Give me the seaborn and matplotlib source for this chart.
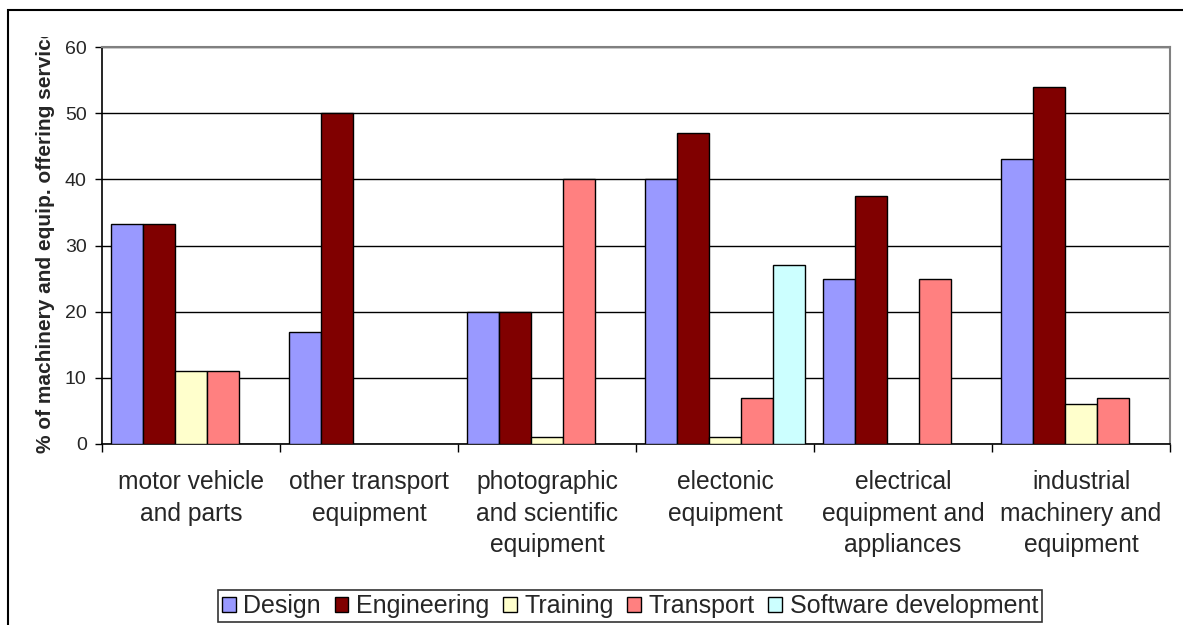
import numpy as np
import pandas as pd
import matplotlib
matplotlib.use('Agg')
import matplotlib.pyplot as plt
from matplotlib.patches import Rectangle
from matplotlib.transforms import Bbox, TransformedBbox
import seaborn as sns

# --- data ---
categories = ['motor vehicle\nand parts', 'other transport\nequipment',
              'photographic\nand scientific\nequipment', 'electonic\nequipment',
              'electrical\nequipment and\nappliances', 'industrial\nmachinery and\nequipment']
services = ['Design', 'Engineering', 'Training', 'Transport', 'Software development']

design = [33.3, 17, 20, 40, 25, 43]
engineering = [33.3, 50, 20, 47, 37.5, 54]
training = [11, np.nan, 1, 1, np.nan, 6]
transport = [11, np.nan, 40, 7, 25, 7]
software = [np.nan, np.nan, np.nan, 27, np.nan, np.nan]

colors = ['#9999FF', '#800000', '#FFFFCC', '#FF8080', '#CCFFFF']

rows = []
for name, vals in zip(services, [design, engineering, training, transport, software]):
    for cat, v in zip(categories, vals):
        rows.append({'category': cat, 'service': name, 'value': v})
df = pd.DataFrame(rows)

sns.set_style('white')
plt.rcParams['font.family'] = ['Liberation Sans', 'DejaVu Sans']

fig = plt.figure(figsize=(11.83, 6.25), dpi=100)
ax = fig.add_axes([102 / 1183, 1 - 444 / 625, 1068 / 1183, 397 / 625])

sns.barplot(data=df, x='category', y='value', hue='service', order=categories,
            hue_order=services, palette=dict(zip(services, colors)),
            edgecolor='black', linewidth=1, width=0.9, gap=0, saturation=1,
            legend=True, ax=ax, zorder=3)

ax.set_xlim(-0.5, 5.5)
ax.set_ylim(0, 60)
ax.set_yticks(range(0, 61, 10))
ax.yaxis.grid(True, color='black', linewidth=1, zorder=0)
ax.set_axisbelow(True)

for s in ['left', 'bottom']:
    ax.spines[s].set_color('black')
    ax.spines[s].set_linewidth(1.2)
for s in ['top', 'right']:
    ax.spines[s].set_color('#808080')
    ax.spines[s].set_linewidth(1.5)

ax.tick_params(axis='y', direction='out', length=5, width=1, color='black',
               labelsize=14, pad=6, left=True)
ax.set_xticks(range(len(categories)))
ax.set_xticklabels(categories, fontsize=17.7, linespacing=1.38)
ax.set_xticks(np.arange(-0.5, 6, 1), minor=True)
ax.tick_params(axis='x', which='major', length=0, pad=19)
ax.tick_params(axis='x', which='minor', direction='out', length=6, width=1,
               color='black', bottom=True)
ax.set_xlabel('')

# y title is cut off at the top in the original, keep it that way
ylab = ax.set_ylabel('% of machinery and equip. offering services', fontsize=15,
                     fontweight='bold')
ax.yaxis.set_label_coords((55 - 102) / 1068, 0.53)
ylab.set_clip_box(TransformedBbox(Bbox([[0, 0], [1, 1 - 37 / 625]]), fig.transFigure))
ylab.set_clip_on(True)

# legend under the chart, one row
handles, labels = ax.get_legend_handles_labels()
ax.get_legend().remove()
leg = fig.legend(handles, labels, loc='center', bbox_to_anchor=(630 / 1183, 1 - 606 / 625),
                 ncol=5, fontsize=18, frameon=True, fancybox=False,
                 handlelength=0.55, handleheight=0.55, handletextpad=0.3,
                 columnspacing=0.55, borderpad=0.15, borderaxespad=0)
leg.get_frame().set_edgecolor('black')
leg.get_frame().set_linewidth(1.2)

# outer chart border (right and bottom edges run off the picture)
fig.patches.append(Rectangle((8 / 1183, -0.2), 1.2, 1 - 10 / 625 + 0.2,
                             transform=fig.transFigure, fill=False,
                             edgecolor='black', linewidth=1.5, clip_on=False))

fig.savefig('out.png', dpi=100)
